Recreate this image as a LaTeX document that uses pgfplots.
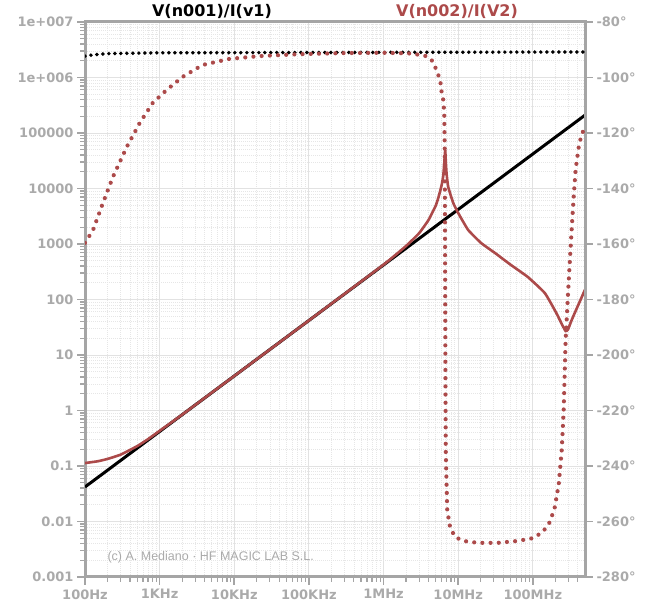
\documentclass[border=0pt]{standalone}
\usepackage{fontspec}
\setmainfont{DejaVu Sans}
\newfontfamily\cfont{Liberation Sans}
\usepackage{pgfplots}
\pgfplotsset{compat=1.18}
\definecolor{axgray}{RGB}{165,165,165}
\definecolor{lblgray}{RGB}{170,170,170}
\definecolor{ltred}{RGB}{172,74,74}
\definecolor{gridmaj}{RGB}{226,226,226}
\definecolor{gridmin}{RGB}{230,230,230}
\begin{document}
\begin{tikzpicture}
\useasboundingbox (-85pt,-28pt) rectangle (566pt,577pt);
\begin{axis}[
  width=500pt, height=555pt, scale only axis,
  xmode=log, ymode=log,
  xmin=100, xmax=5e8, ymin=1e-3, ymax=1e7,
  axis line style={axgray, line width=3pt},
  xtick={1e2,1e3,1e4,1e5,1e6,1e7,1e8},
  xticklabels={100Hz,1KHz,10KHz,100KHz,1MHz,10MHz,100MHz},
  minor xtick={2e2,3e2,4e2,5e2,6e2,7e2,8e2,9e2,2e3,3e3,4e3,5e3,6e3,7e3,8e3,9e3,2e4,3e4,4e4,5e4,6e4,7e4,8e4,9e4,2e5,3e5,4e5,5e5,6e5,7e5,8e5,9e5,2e6,3e6,4e6,5e6,6e6,7e6,8e6,9e6,2e7,3e7,4e7,5e7,6e7,7e7,8e7,9e7,2e8,3e8,4e8},
  ytick={1e-3,1e-2,1e-1,1,10,100,1000,1e4,1e5,1e6,1e7},
  yticklabels={0.001,0.01,0.1,1,10,100,1000,10000,100000,1e+006,1e+007},
  minor ytick={2e-3,3e-3,4e-3,5e-3,6e-3,7e-3,8e-3,9e-3,2e-2,3e-2,4e-2,5e-2,6e-2,7e-2,8e-2,9e-2,2e-1,3e-1,4e-1,5e-1,6e-1,7e-1,8e-1,9e-1,2,3,4,5,6,7,8,9,20,30,40,50,60,70,80,90,200,300,400,500,600,700,800,900,2e3,3e3,4e3,5e3,6e3,7e3,8e3,9e3,2e4,3e4,4e4,5e4,6e4,7e4,8e4,9e4,2e5,3e5,4e5,5e5,6e5,7e5,8e5,9e5,2e6,3e6,4e6,5e6,6e6,7e6,8e6,9e6},
  xtick pos=lower, ytick pos=left,
  tick align=outside,
  major tick length=8pt, minor tick length=5pt,
  major tick style={axgray, line width=1.6pt},
  minor tick style={axgray, line width=1.2pt},
  grid=both,
  major grid style={gridmaj, line width=0.9pt},
  minor grid style={gridmin, line width=0.7pt, dash pattern=on 1pt off 1pt},
  ticklabel style={font=\bfseries\fontsize{13}{13}\selectfont, text=lblgray},
  xticklabel style={yshift=-1pt},
  clip mode=individual,
]
\addplot[black, line width=3pt] coordinates {(100,0.0419) (5e8,2.095e5)};
\addplot[ltred, line width=2.6pt, smooth, tension=0.25] coordinates {
(100,0.113) (150,0.122) (200,0.134) (300,0.160) (500,0.228) (700,0.305)
(1000,0.43) (2000,0.84) (5000,2.1) (1e4,4.19) (1e5,41.9) (1e6,425)
(2e6,920) (3e6,1570) (4e6,2700) (5e6,4900) (5.5e6,7300) (6e6,11500)
(6.31e6,17000) (6.5e6,28000) (6.7e6,49000) (6.85e6,28000) (7.0e6,18000)
(7.36e6,10600) (8.58e6,5480) (1e7,3620) (1.36e7,1790) (2.03e7,1040)
(3.11e7,689) (5.09e7,419) (8.58e7,254) (1.445e8,131) (2.03e8,59.6)
(2.5e8,34) (2.75e8,27) (2.95e8,28.5) (3.3e8,42) (3.74e8,62) (5e8,150)};
\node[anchor=center, font=\bfseries\fontsize{16}{16}\selectfont, text=black] at (rel axis cs:0.254,1.019) {V(n001)/I(v1)};
\node[anchor=center, font=\bfseries\fontsize{16}{16}\selectfont, text=ltred] at (rel axis cs:0.744,1.019) {V(n002)/I(V2)};
\node[anchor=west, font=\cfont\fontsize{12.5}{12.5}\selectfont, text=lblgray] at (rel axis cs:0.038,0.036) {(c) A. Mediano · HF MAGIC LAB S.L.};
\end{axis}
\begin{axis}[
  width=500pt, height=555pt, scale only axis,
  xmode=log, xmin=100, xmax=5e8, ymin=-280, ymax=-80,
  axis y line*=right, axis x line=none,
  axis line style={axgray, line width=3pt},
  ytick={-280,-260,-240,-220,-200,-180,-160,-140,-120,-100,-80},
  yticklabel={\pgfmathprintnumber{\tick}°},
  /pgf/number format/assume math mode=true,
  tick align=outside, major tick length=8pt,
  major tick style={axgray, line width=1.6pt},
  ticklabel style={font=\bfseries\fontsize{13}{13}\selectfont, text=lblgray},
]
\addplot[black, line width=3.9pt, line cap=round, dash pattern=on 0pt off 6pt] coordinates {
(100,-92.3) (130,-91.8) (200,-91.4) (1000,-91.1) (1e5,-91) (5e8,-90.8)};
\addplot[ltred, line width=4.2pt, line cap=round, dash pattern=on 0pt off 8.2pt] coordinates {
(100,-159.6) (128,-155.0) (174,-145.2) (236,-135.9) (363,-125.0) (541,-116.4)
(807,-109.2) (1240,-104.5) (2026,-99.8) (3744,-95.5) (8577,-93.3) (21544,-92.3)
(73564,-91.6) (3e5,-91.2) (1e6,-91.1) (2.15e6,-91.3) (3.41e6,-92.0) (3.98e6,-92.6)
(4.64e6,-94.4) (5.09e6,-97.3) (5.75e6,-100.9) (5.93e6,-104.5) (6.31e6,-108.1)
(6.5e6,-112.8) (6.6e6,-125) (6.65e6,-150) (6.7e6,-180) (6.75e6,-210) (6.82e6,-235)
(7.13e6,-255.9) (7.82e6,-262.3) (9.12e6,-265.6) (1.17e7,-267.0) (1.85e7,-267.7)
(3.4e7,-267.7) (6.3e7,-267.0) (1e8,-266.0) (1.36e8,-263.8) (1.69e8,-260.2)
(1.96e8,-255.1) (2.22e8,-246.8) (2.44e8,-234.2) (2.59e8,-219.8) (2.75e8,-194.6)
(2.93e8,-180.2) (3.11e8,-167.6) (3.31e8,-155.0) (3.52e8,-143.4) (3.74e8,-133.3)
(4.1e8,-125.4) (4.5e8,-120.4) (4.7e8,-119.5)};
\end{axis}
\end{tikzpicture}
\end{document}
